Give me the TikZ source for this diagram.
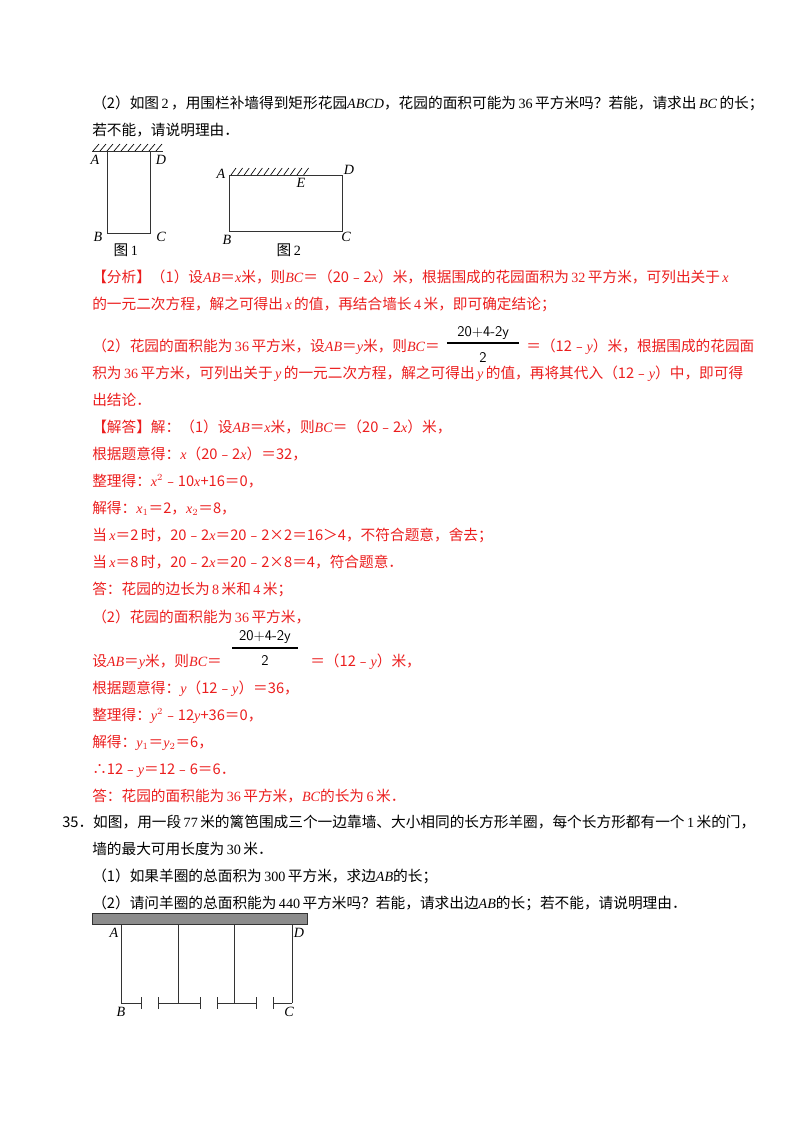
\documentclass[tikz,border=0pt]{standalone}
\usepackage{fontspec}
\setmainfont{Liberation Serif}
\newfontfamily\cjk{Noto Sans CJK SC}[Scale=1.04]
\newcommand{\vv}[1]{{\rmfamily\itshape #1}}
\newcommand{\nn}[1]{\,{\rmfamily #1}\,}
\definecolor{ans}{RGB}{235,30,30}
\begin{document}
\begin{tikzpicture}[x=0.744pt,y=-0.744pt,
  tx/.style={anchor=base west,inner sep=0pt,font=\cjk\fontsize{10.5}{12}\selectfont},
  rt/.style={tx,text=ans},
  lb/.style={inner sep=0pt,font=\fontsize{10.5}{12}\selectfont\itshape},
  fr/.style={tx,anchor=center,font=\sffamily\fontsize{11}{12}\selectfont},
  ln/.style={line width=0.7pt,draw=black!80}]
\useasboundingbox (0,0) rectangle (800,1132);
\node[tx] (l1) at (92,108) {（2）如图\nn{2}，用围栏补墙得到矩形花园\vv{ABCD}，花园的面积可能为\nn{36}平方米吗？若能，请求出\,\vv{BC}\,的长；};
\node[tx] (l2) at (92,135) {若不能，请说明理由．};
% fig 1
\draw[ln] (107,151) rectangle (150,233);
\draw[ln] (92,151) -- (163,151);
\foreach \i in {0,...,9} \draw[line width=0.5pt] (93+7*\i,151) -- (99+7*\i,144);
\node[lb] (fa) at (95,160) {A};
\node[lb] (fd) at (161,160) {D};
\node[lb] (fb) at (98,237) {B};
\node[lb] (fc) at (161,237) {C};
\node[tx,anchor=center] (t1) at (127,250) {图\nn{1}};
% fig 2
\draw[ln] (229,175) rectangle (342,231);
\foreach \i in {0,...,11} \draw[line width=0.5pt] (231+6.6*\i,175) -- (236+6.6*\i,168);
\node[lb] (ga) at (221,174) {A};
\node[lb] (gd) at (349,170) {D};
\node[lb] (ge) at (301,183) {E};
\node[lb] (gb) at (227,240) {B};
\node[lb] (gc) at (346,237) {C};
\node[tx,anchor=center] (t2) at (290,250) {图\nn{2}};
% analysis
\node[rt] (a1) at (92,282) {【分析】（1）设\vv{AB}＝\vv{x}米，则\vv{BC}＝（20﹣2\vv{x}）米，根据围成的花园面积为\nn{32}平方米，可列出关于\,\vv{x}};
\node[rt] (a2) at (92,309) {的一元二次方程，解之可得出\,\vv{x}\,的值，再结合墙长\nn{4}米，即可确定结论；};
\node[rt] (a3) at (92,351) {（2）花园的面积能为\nn{36}平方米，设\vv{AB}＝\vv{y}米，则\vv{BC}＝};
\coordinate (f1) at ([xshift=32]a3.base east);
\node[fr] (f1t) at (f1 |- 0,333) {20+4-2y};
\draw[line width=0.8pt] ([xshift=-27]f1 |- 0,343) -- ([xshift=27]f1 |- 0,343);
\node[fr] (f1b) at (f1 |- 0,357) {2};
\node[rt] (a3b) at ([xshift=32]f1 |- a3.base) {＝（12﹣\vv{y}）米，根据围成的花园面};
\node[rt] (a4) at (92,378) {积为\nn{36}平方米，可列出关于\,\vv{y}\,的一元二次方程，解之可得出\,\vv{y}\,的值，再将其代入（12﹣\vv{y}）中，即可得};
\node[rt] (a5) at (92,405) {出结论．};
\node[rt] (b1) at (92,432) {【解答】解：（1）设\vv{AB}＝\vv{x}米，则\vv{BC}＝（20﹣2\vv{x}）米，};
\node[rt] (b2) at (92,459) {根据题意得：\vv{x}（20﹣2\vv{x}）＝32，};
\node[rt] (b3) at (92,486) {整理得：\vv{x}$^2$﹣10\vv{x}+16＝0，};
\node[rt] (b4) at (92,513) {解得：\vv{x}$_1$＝2，\vv{x}$_2$＝8，};
\node[rt] (b5) at (92,540) {当\,\vv{x}＝2\,时，20﹣2\vv{x}＝20﹣2×2＝16＞4，不符合题意，舍去；};
\node[rt] (b6) at (92,567) {当\,\vv{x}＝8\,时，20﹣2\vv{x}＝20﹣2×8＝4，符合题意．};
\node[rt] (b7) at (92,594) {答：花园的边长为\nn{8}米和\nn{4}米；};
\node[rt] (b8) at (92,622) {（2）花园的面积能为\nn{36}平方米，};
\node[rt] (b9) at (92,666) {设\vv{AB}＝\vv{y}米，则\vv{BC}＝};
\node[fr] (f2) at (265,637) {20+4-2y};
\draw[line width=0.8pt] (232,648) -- (298,648);
\node[fr] (f2b) at (265,660) {2};
\node[rt] (b9b) at (310,666) {＝（12﹣\vv{y}）米，};
\node[rt] (b10) at (92,693) {根据题意得：\vv{y}（12﹣\vv{y}）＝36，};
\node[rt] (b11) at (92,720) {整理得：\vv{y}$^2$﹣12\vv{y}+36＝0，};
\node[rt] (b12) at (92,747) {解得：\vv{y}$_1$＝\vv{y}$_2$＝6，};
\node[rt] (b13) at (92,774) {∴12﹣\vv{y}＝12﹣6＝6．};
\node[rt] (b14) at (92,801) {答：花园的面积能为\nn{36}平方米，\vv{BC}的长为\nn{6}米．};
% problem 35
\node[tx] (p1) at (62,827) {35．如图，用一段\nn{77}米的篱笆围成三个一边靠墙、大小相同的长方形羊圈，每个长方形都有一个\nn{1}米的门，};
\node[tx] (p2) at (92,854) {墙的最大可用长度为\nn{30}米．};
\node[tx] (p3) at (92,881) {（1）如果羊圈的总面积为\nn{300}平方米，求边\vv{AB}的长；};
\node[tx] (p4) at (92,908) {（2）请问羊圈的总面积能为\nn{440}平方米吗？若能，请求出边\vv{AB}的长；若不能，请说明理由．};
% figure
\draw[fill=black!45,draw=black!80,line width=0.6pt] (92,913) rectangle (307,924);
\foreach \x in {121,178,234,292} \draw[ln] (\x,924) -- (\x,1003);
\draw[ln] (121,1003) -- (141,1003);
\draw[ln] (158,1003) -- (200,1003);
\draw[ln] (217,1003) -- (256,1003);
\draw[ln] (273,1003) -- (292,1003);
\foreach \x in {141,158,200,217,256,273} \draw[ln] (\x,997) -- (\x,1009);
\node[lb] (ca) at (114,933) {A};
\node[lb] (cd) at (299,933) {D};
\node[lb] (cb) at (121,1012) {B};
\node[lb] (cc) at (289,1012) {C};
\end{tikzpicture}
\end{document}
